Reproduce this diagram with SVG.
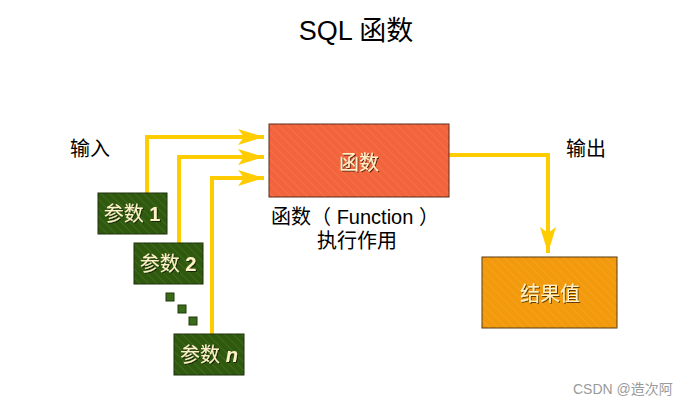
<svg xmlns="http://www.w3.org/2000/svg" width="689" height="404" viewBox="0 0 689 404">
<style>
.t{font-family:"Liberation Sans","Noto Sans CJK SC",sans-serif;fill:#000}
.bl{font-family:"Liberation Sans","Noto Sans CJK SC",sans-serif;fill:#FFF2C8;font-size:20px;text-anchor:middle}
.pl{font-family:"Liberation Sans","Noto Sans CJK SC",sans-serif;fill:#FFF2C8;font-size:20px;text-anchor:middle}
.conn{fill:none;stroke:#FFCC00;stroke-width:4}
.dot{fill:#3A6B1A;stroke:#1E3A0A;stroke-width:1}
</style>
<defs>
<pattern id="hatch" width="6" height="6" patternUnits="userSpaceOnUse" patternTransform="rotate(-45)">
<line x1="0" y1="0" x2="0" y2="6" stroke="#ffffff" stroke-opacity="0.1" stroke-width="1.5"/>
</pattern>
<filter id="sh" x="-10%" y="-10%" width="130%" height="130%">
<feDropShadow dx="1" dy="1" stdDeviation="0.5" flood-color="#000" flood-opacity="0.6"/>
</filter>
<marker id="ah" viewBox="0 0 26 16" refX="26" refY="8" markerWidth="26" markerHeight="16" markerUnits="userSpaceOnUse" orient="auto">
<path d="M0,0 L26,8 L0,16 L6,8 Z" fill="#FFCC00"/>
</marker>
</defs>
<rect width="689" height="404" fill="#fff"/>
<text class="t" x="356" y="40" font-size="27" text-anchor="middle">SQL 函数</text>
<text class="t" x="70" y="156" font-size="20">输入</text>
<text class="t" x="566" y="156" font-size="20">输出</text>
<text class="t" x="355" y="224" font-size="20" text-anchor="middle">函数（ Function ）</text>
<text class="t" x="357" y="248" font-size="20" text-anchor="middle">执行作用</text>
<g id="connectors">
<path class="conn" d="M147,193 V137 H264" marker-end="url(#ah)"/>
<path class="conn" d="M179,243 V157 H264" marker-end="url(#ah)"/>
<path class="conn" d="M212,334 V178 H264" marker-end="url(#ah)"/>
<path class="conn" d="M449,155 H548 V253" marker-end="url(#ah)"/>
</g>
<g id="func">
<rect x="269" y="124" width="180" height="73" fill="#F2643C" stroke="#5A2A18" stroke-width="1"/>
<rect x="269" y="124" width="180" height="73" fill="url(#hatch)"/>
<text class="bl" x="359" y="170" filter="url(#sh)">函数</text>
</g>
<g id="result">
<rect x="482" y="257" width="135" height="71" fill="#F29A0C" stroke="#5A3A10" stroke-width="1"/>
<rect x="482" y="257" width="135" height="71" fill="url(#hatch)"/>
<text class="bl" x="550" y="301" font-size="21" filter="url(#sh)">结果值</text>
</g>
<g id="param1">
<rect x="98" y="193" width="69" height="41" fill="#2F5A0E" stroke="#1C2E0A" stroke-width="1"/>
<rect x="98" y="193" width="69" height="41" fill="url(#hatch)"/>
<text class="pl" x="132" y="221" filter="url(#sh)">参数 <tspan font-weight="bold">1</tspan></text>
</g>
<g id="param2">
<rect x="134" y="243" width="69" height="41" fill="#2F5A0E" stroke="#1C2E0A" stroke-width="1"/>
<rect x="134" y="243" width="69" height="41" fill="url(#hatch)"/>
<text class="pl" x="168" y="271" filter="url(#sh)">参数 <tspan font-weight="bold">2</tspan></text>
</g>
<g id="dots">
<rect class="dot" x="166" y="293" width="8" height="8"/>
<rect class="dot" x="178" y="305" width="8" height="8"/>
<rect class="dot" x="189" y="317" width="8" height="8"/>
</g>
<g id="paramn">
<rect x="174" y="334" width="70" height="41" fill="#2F5A0E" stroke="#1C2E0A" stroke-width="1"/>
<rect x="174" y="334" width="70" height="41" fill="url(#hatch)"/>
<text class="pl" x="209" y="362" filter="url(#sh)">参数 <tspan font-style="italic" font-weight="bold">n</tspan></text>
</g>
<text x="573" y="394" font-family="Liberation Sans,Noto Sans CJK SC,sans-serif" font-size="14" fill="#9a9a9a">CSDN @造次阿</text>
</svg>
